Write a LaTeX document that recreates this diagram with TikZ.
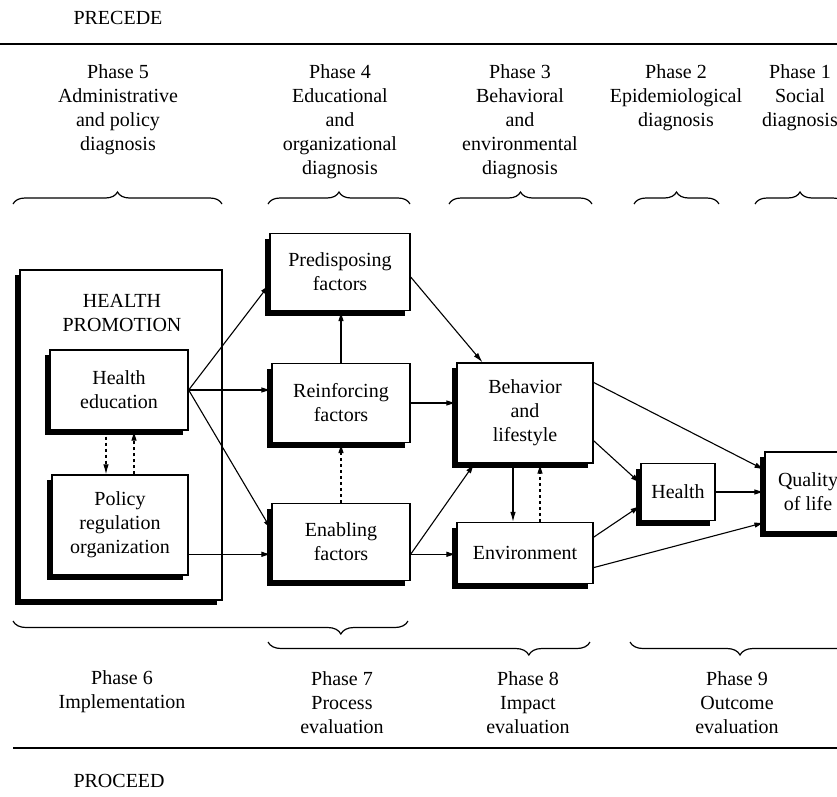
\documentclass[tikz,border=0pt]{standalone}
\usepackage{fontspec}
\setmainfont{Liberation Serif}
\usetikzlibrary{arrows.meta,shadows,decorations.pathreplacing}

\begin{document}
\begin{tikzpicture}[x=1pt,y=-1pt,>={Latex[length=10pt,width=5.5pt]},
    every node/.style={font=\fontsize{20}{24}\selectfont,align=center},
    factor/.style={draw,line width=1.3pt,fill=white,inner sep=2pt,
      drop shadow={shadow xshift=-5pt,shadow yshift=-5pt,fill=black,opacity=1}},
    flow/.style={->,line width=1.1pt},
    upbrace/.style={decorate,decoration={brace,amplitude=12pt},line width=1.2pt},
    downbrace/.style={decorate,decoration={brace,mirror,amplitude=13pt,aspect=#1},line width=1.2pt}]
        \useasboundingbox (0,0) rectangle (837,796);
        \draw[line width=2.5pt] (0,44) -- (837,44);
        \draw[line width=2pt]   (13,748) -- (837,748);
        \node[anchor=west] (precede) at (70,18)  {PRECEDE};
        \node[anchor=west] (proceed) at (70,781) {PROCEED};
        % PRECEDE phases
        \node (ph5) at (118,110) {Phase 5\\Administrative\\and policy\\diagnosis};
        \node (ph4) at (340,122) {Phase 4\\Educational\\and\\organizational\\diagnosis};
        \node (ph3) at (520,122) {Phase 3\\Behavioral\\and\\environmental\\diagnosis};
        \node (ph2) at (676,98)  {Phase 2\\Epidemiological\\diagnosis};
        \node (ph1) at (800,98)  {Phase 1\\Social\\diagnosis};
        \draw[upbrace] (13,204)  -- (222,204);
        \draw[upbrace] (268,204) -- (410,204);
        \draw[upbrace] (449,204) -- (592,204);
        \draw[upbrace] (634,204) -- (719,204);
        \draw[upbrace] (755,204) -- (845,204);
        % PROCEED phases
        \draw[downbrace=0.83] (13,621)  -- (408,621);
        \draw[downbrace=0.81] (268,642) -- (590,642);
        \draw[downbrace=0.5]  (630,642) -- (850,642);
        \node (ph6) at (122,692) {Phase 6\\Implementation};
        \node (ph7) at (342,703) {Phase 7\\Process\\evaluation};
        \node (ph8) at (528,703) {Phase 8\\Impact\\evaluation};
        \node (ph9) at (737,703) {Phase 9\\Outcome\\evaluation};
        % boxes
        \node[factor,minimum width=202pt,minimum height=330pt] (promo) at (121,435) {};
        \node (promotxt) at (122,313) {HEALTH\\PROMOTION};
        \node[factor,minimum width=138pt,minimum height=80pt]  (heduc)  at (119,390) {Health\\education};
        \node[factor,minimum width=136pt,minimum height=100pt] (policy) at (120,525) {Policy\\regulation\\organization};
        \node[factor,minimum width=140pt,minimum height=77pt]  (predis) at (340,272) {Predisposing\\factors};
        \node[factor,minimum width=138pt,minimum height=79pt]  (reinf)  at (341,403) {Reinforcing\\factors};
        \node[factor,minimum width=138pt,minimum height=77pt]  (enabl)  at (341,542) {Enabling\\factors};
        \node[factor,minimum width=136pt,minimum height=100pt] (behav)  at (525,413) {Behavior\\and\\lifestyle};
        \node[factor,minimum width=136pt,minimum height=61pt]  (envir)  at (525,553) {Environment};
        \node[factor,minimum width=74pt,minimum height=57pt]   (health) at (678,492) {Health};
        \node[factor,minimum width=86pt,minimum height=80pt]   (qol)    at (808,492) {Quality\\of life};
        % arrows
        \draw[flow] (heduc.east) -- (predis.190);
        \draw[flow] (heduc.east) -- (heduc.east -| reinf.west);
        \draw[flow] (heduc.east) -- (enabl.170);
        \draw[flow] (enabl.190 -| policy.east) -- (enabl.190);
        \draw[flow,dashed] ([xshift=-13pt]heduc.south) -- ([xshift=-13pt]heduc.south |- policy.north);
        \draw[flow,dashed] ([xshift=14pt]policy.north) -- ([xshift=14pt]policy.north |- heduc.south);
        \draw[flow] (reinf.north) -- (reinf.north |- predis.south);
        \draw[flow,dashed] (enabl.north) -- (enabl.north |- reinf.south);
        \draw[flow] (predis.-4) -- (behav.130);
        \draw[flow] (reinf.east) -- (reinf.east -| behav.west);
        \draw[flow] (enabl.-10) -- (behav.225);
        \draw[flow] (enabl.-10) -- (enabl.-10 -| envir.west);
        \draw[flow] ([xshift=-12pt]behav.south) -- ([xshift=-12pt]behav.south |- envir.north);
        \draw[flow,dashed] ([xshift=15pt]envir.north) -- ([xshift=15pt]envir.north |- behav.south);
        \draw[flow] (behav.-22) -- (health.167);
        \draw[flow] (envir.13) -- (health.200);
        \draw[flow] (behav.24) -- (qol.153);
        \draw[flow] (health.east) -- (health.east -| qol.west);
        \draw[flow] (envir.-12) -- (qol.215);
    \end{tikzpicture}
\end{document}
